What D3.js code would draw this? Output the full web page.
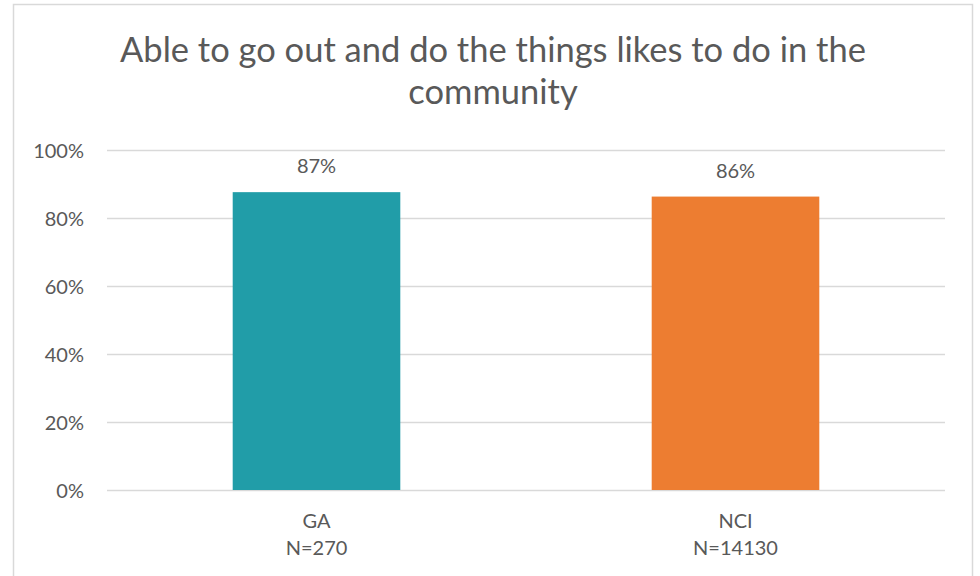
<!DOCTYPE html>
<html><head><meta charset="utf-8">
<script src="https://cdn.jsdelivr.net/npm/d3@7"></script>
<style>body{margin:0;background:#fff;} svg{display:block;}</style>
</head><body>
<svg id="chart" width="980" height="576"></svg>
<script>
const titleLines = ["Able to go out and do the things likes to do in the", "community"];
const categories = ["GA", "NCI"];
const sampleSizes = ["N=270", "N=14130"];
const values = [0.876, 0.863];
const dataLabels = ["87%", "86%"];
const colors = ["#219da8", "#ed7d31"];
const yTicks = [0, 0.2, 0.4, 0.6, 0.8, 1.0];

const svg = d3.select("#chart");
const font = "Lato, 'Open Sans', sans-serif";
const textColor = "#595959";

svg.append("rect").attr("x", 13.5).attr("y", 4.5).attr("width", 959).attr("height", 600)
  .attr("fill", "#fff").attr("stroke", "#d9d9d9").attr("stroke-width", 1.5);

const plot = {left: 107, right: 945, top: 150, bottom: 490};
const x = d3.scaleBand().domain(categories).range([plot.left, plot.right]).paddingInner(0.6).paddingOuter(0.3);
const y = d3.scaleLinear().domain([0, 1]).range([plot.bottom, plot.top]);

const title = svg.append("text").attr("text-anchor", "middle").attr("fill", textColor)
  .style("font-family", font).style("font-size", "34.5px");
titleLines.forEach((t, i) => title.append("tspan").attr("x", 493).attr("y", 62 + i * 42).text(t));

const yAxis = d3.axisLeft(y).tickValues(yTicks).tickFormat(d3.format(".0%")).tickSize(-(plot.right - plot.left)).tickPadding(23);
const ga = svg.append("g").attr("transform", `translate(${plot.left},0)`).call(yAxis);
ga.select(".domain").remove();
ga.selectAll(".tick line").attr("stroke", "#d9d9d9").attr("stroke-width", 1.3);
ga.selectAll(".tick text").attr("fill", textColor).attr("dy", "0.36em").style("font-family", font).style("font-size", "20px");

svg.selectAll("rect.bar").data(values).join("rect").attr("class", "bar")
  .attr("x", (d, i) => x(categories[i])).attr("width", x.bandwidth())
  .attr("y", d => y(d)).attr("height", d => y(0) - y(d)).attr("fill", (d, i) => colors[i]);

svg.selectAll("text.dl").data(values).join("text").attr("class", "dl")
  .attr("x", (d, i) => x(categories[i]) + x.bandwidth() / 2).attr("y", d => y(d) - 19)
  .attr("text-anchor", "middle").attr("fill", textColor).style("font-family", font).style("font-size", "20px")
  .text((d, i) => dataLabels[i]);

const cat = svg.selectAll("text.cat").data(categories).join("text").attr("class", "cat")
  .attr("text-anchor", "middle").attr("fill", textColor).style("font-family", font).style("font-size", "20px");
cat.append("tspan").attr("x", d => x(d) + x.bandwidth() / 2).attr("y", 528).text(d => d);
cat.append("tspan").attr("x", d => x(d) + x.bandwidth() / 2).attr("y", 555).text((d, i) => sampleSizes[i]);
</script>
</body></html>
